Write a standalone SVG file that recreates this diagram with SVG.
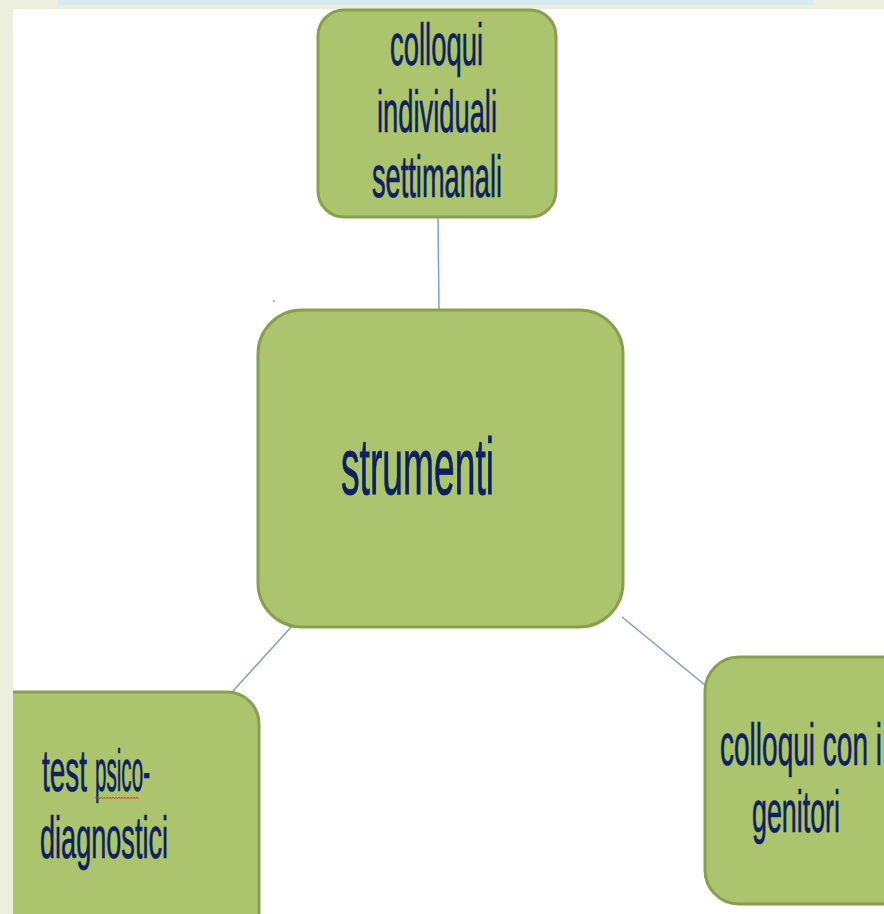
<svg xmlns="http://www.w3.org/2000/svg" width="884" height="914" viewBox="0 0 884 914">
<style>
.box{fill:#abc46d;stroke:#87a04f;stroke-width:3}
.lbl{font-family:"Liberation Sans",Arial,sans-serif;fill:#0d2160;stroke:#0d2160;stroke-width:0.7;font-size:60px}
.big{font-size:80px;stroke-width:0.9}
.conn line{stroke:#7b9fc8;stroke-width:1.5}
</style>
<rect x="0" y="0" width="884" height="914" fill="#ffffff"/>
<rect x="0" y="0" width="884" height="9" fill="#ecefde"/>
<rect x="58" y="0" width="755" height="5" fill="#d8ebf0"/>
<g class="conn" id="connectors">
<line x1="438" y1="217" x2="439" y2="310"/>
<line x1="293" y1="625" x2="233" y2="691"/>
<line x1="622" y1="617" x2="705" y2="685"/>
</g>
<circle cx="274" cy="301" r="0.8" fill="#555"/>
<g id="node-top">
<rect class="box" x="318" y="10" width="238" height="207" rx="26"/>
<text class="lbl" x="390" y="65" textLength="93" lengthAdjust="spacingAndGlyphs">colloqui</text>
<text class="lbl" x="377" y="132" textLength="120" lengthAdjust="spacingAndGlyphs">individuali</text>
<text class="lbl" x="372" y="197" textLength="130" lengthAdjust="spacingAndGlyphs">settimanali</text>
</g>
<g id="node-center">
<rect class="box" x="258" y="310" width="365" height="317" rx="44"/>
<text class="lbl big" x="341" y="494" textLength="153" lengthAdjust="spacingAndGlyphs">strumenti</text>
</g>
<g id="node-left">
<rect class="box" x="-40" y="692" width="299" height="260" rx="32"/>
<text class="lbl"><tspan x="42" y="791" textLength="45" lengthAdjust="spacingAndGlyphs">test</tspan> <tspan x="95" y="791" textLength="55" lengthAdjust="spacingAndGlyphs">psico-</tspan></text>
<polyline points="95,797 96.5,799 98,797 99.5,799 101,797 102.5,799 104,797 105.5,799 107,797 108.5,799 110,797 111.5,799 113,797 114.5,799 116,797 117.5,799 119,797 120.5,799 122,797 123.5,799 125,797 126.5,799 128,797 129.5,799 131,797 132.5,799 134,797 135.5,799 137,797 138.5,799" fill="none" stroke="#e03030" stroke-width="0.8"/>
<text class="lbl" x="40" y="858" textLength="128" lengthAdjust="spacingAndGlyphs">diagnostici</text>
</g>
<g id="node-right">
<rect class="box" x="705" y="657" width="230" height="247" rx="34"/>
<text class="lbl" x="720" y="765" textLength="162" lengthAdjust="spacingAndGlyphs">colloqui con i</text>
<text class="lbl" x="752" y="832" textLength="88" lengthAdjust="spacingAndGlyphs">genitori</text>
</g>
<rect x="0" y="0" width="13" height="914" fill="#ecefde"/>
</svg>
